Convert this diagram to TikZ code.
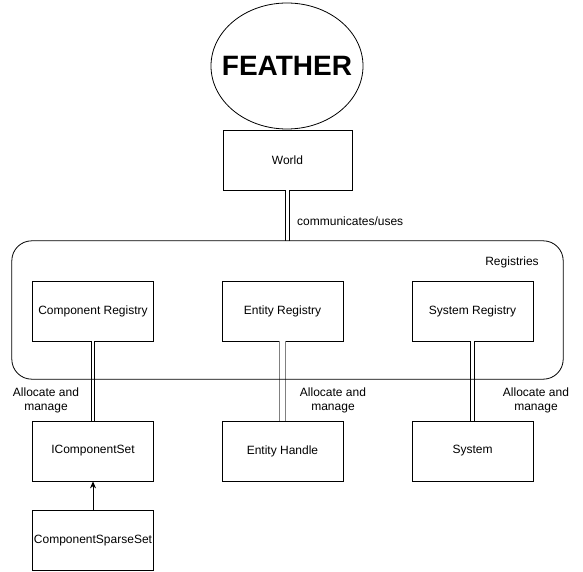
\documentclass[tikz,border=0pt]{standalone}
\usepackage{fontspec}
\setmainfont{Liberation Sans}
\usetikzlibrary{arrows.meta, positioning}

\tikzset{
  box/.style={draw, line width=0.8pt, minimum width=121pt, minimum height=60pt,
    inner sep=0pt, font=\fontsize{12}{14}\selectfont},
  link/.style={double, double distance=2.4pt, line width=1pt},
  note/.style={align=center, inner sep=0pt, font=\fontsize{12}{14}\selectfont}
}

\begin{document}
\begin{tikzpicture}[x=1pt, y=-1pt]
        \pgfmathsetmacro{\colL}{93}
        \pgfmathsetmacro{\colM}{282.5}
        \pgfmathsetmacro{\colR}{472.5}
        \useasboundingbox (0,0) rectangle (583,572);
        \node[inner sep=0pt, font=\bfseries\fontsize{28}{32}\selectfont] (feather) at (287,66) {FEATHER};
        \draw[line width=0.8pt] (feather.center) ellipse [x radius=76pt, y radius=63pt];
        \node[box, minimum width=129pt] (world) at (287.5,160) {World};
        \node[minimum width=551pt, minimum height=138pt] (reg) at (287.5,310) {};
        \node[note] (regname) at (512,262) {Registries};
        \node[box] (compreg) at (\colL,311) {Component Registry};
        \node[box] (entreg) at (\colM,311) {Entity Registry};
        \node[box] (sysreg) at (\colR,311) {System Registry};
        \node[box] (icompset) at (\colL,451) {IComponentSet};
        \node[box] (enthandle) at (\colM,451) {Entity Handle};
        \node[box] (system) at (\colR,451) {System};
        \node[box] (sparseset) at (\colL,540.5) {ComponentSparseSet};
        \draw[link] (world) -- (reg);
        \node[note, anchor=west] (uses) at (297,221) {communicates/uses};
        \draw[link] (compreg) -- (icompset);
        \draw[link, draw=gray, double distance=5.5pt] (entreg) -- (enthandle);
        \draw[link] (sysreg) -- (system);
        \draw[line width=0.8pt, rounded corners=20pt] (reg.north west) rectangle (reg.south east);
        \node[note] (mgleft) at (46,400.5) {Allocate and\\manage};
        \node[note] (mgmid) at (333,400.5) {Allocate and\\manage};
        \node[note] (mgright) at (536,400.5) {Allocate and\\manage};
        \draw[line width=0.8pt, -{Stealth[length=7pt, width=6pt]}] (sparseset) -- (icompset);
        % \draw[link] (reg) -- (entreg);
\end{tikzpicture}
\end{document}
